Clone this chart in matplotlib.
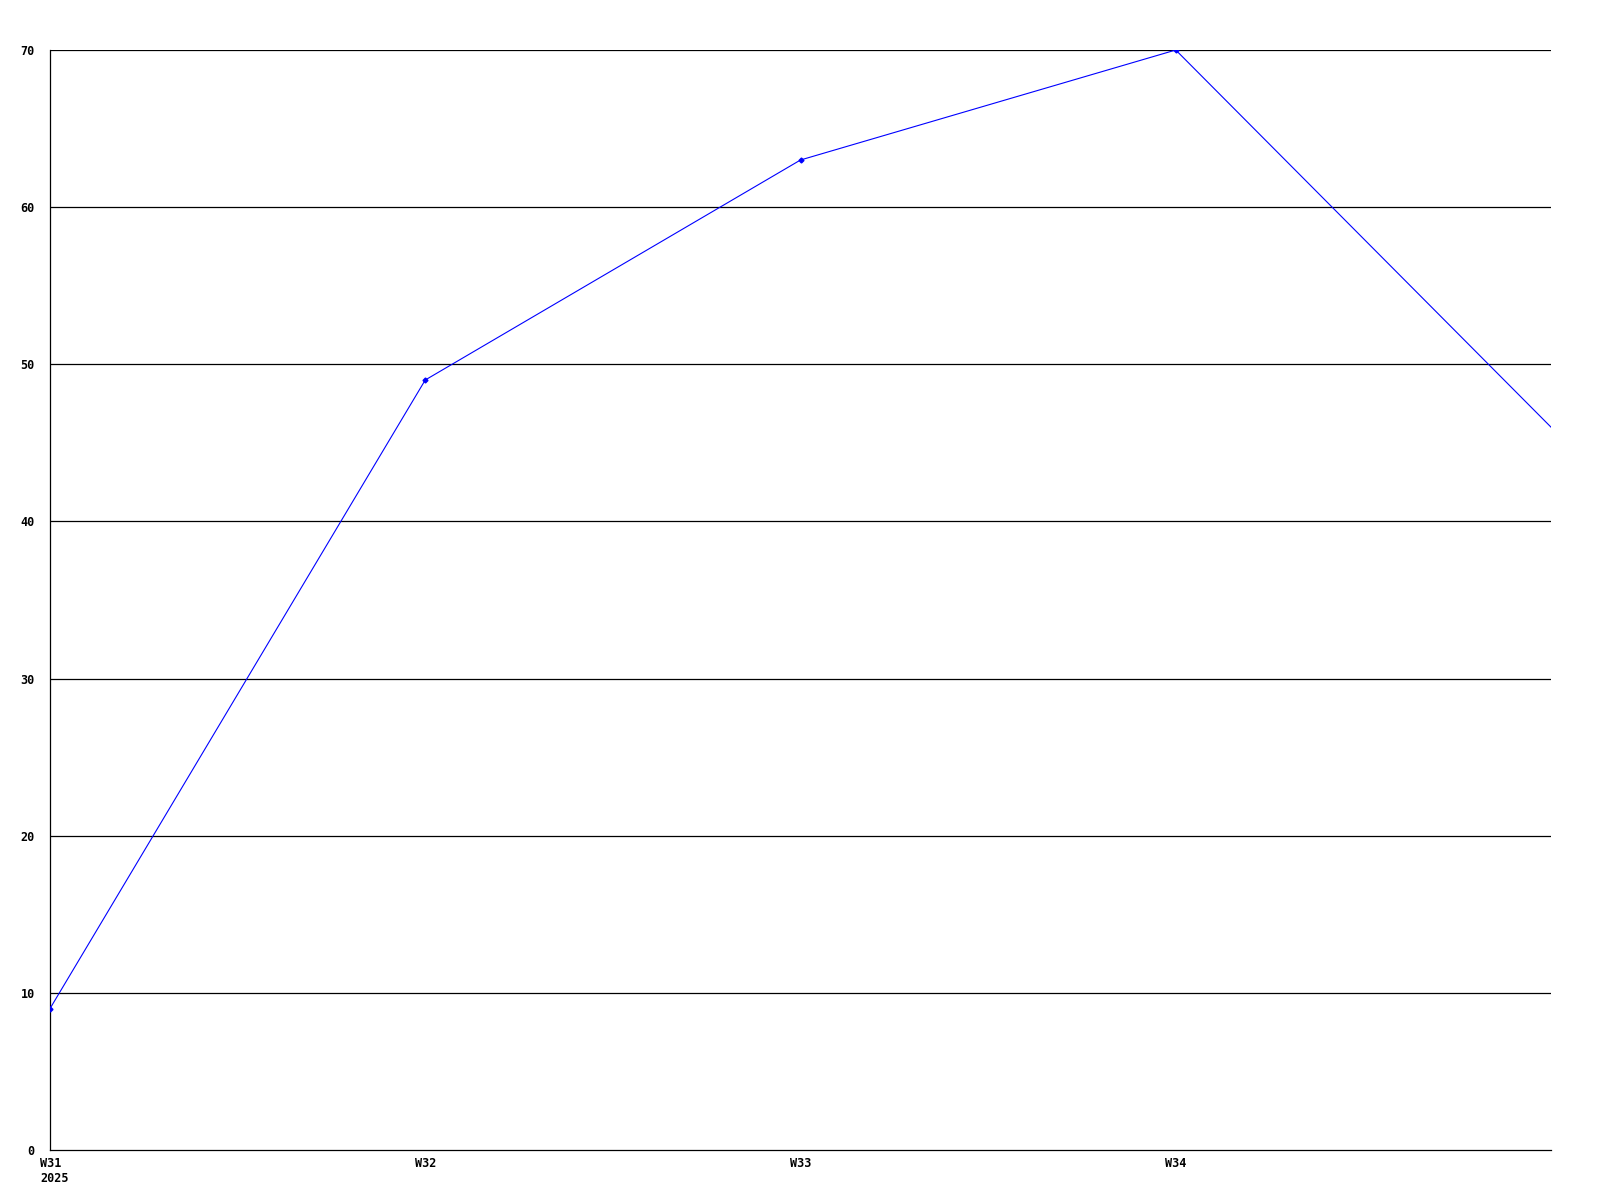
import matplotlib
matplotlib.use("Agg")
import matplotlib.pyplot as plt
import matplotlib.transforms as mtransforms

# weekly counts
weeks = ["W31\n2025", "W32", "W33", "W34", "W35"]
values = [9, 49, 63, 70, 46]
y_ticks = [0, 10, 20, 30, 40, 50, 60, 70]

x = list(range(len(weeks)))

fig = plt.figure(figsize=(16, 12), dpi=100)
ax = fig.add_axes([50 / 1600, 50 / 1200, 1501 / 1600, 1100 / 1200])

# horizontal grid lines (1 px)
for v in y_ticks[1:]:
    ax.axhline(v, color="black", linewidth=0.9, zorder=1)

ax.plot(x, values, color="#0000ff", linewidth=0.8, zorder=3)
ax.plot(x[:-1], values[:-1], linestyle="none", marker="D", markersize=2.5,
        color="#0000ff", zorder=4)

ax.set_xlim(0, 4)
ax.set_ylim(0, 70)

ax.set_yticks(y_ticks)
ax.set_yticklabels([str(v) for v in y_ticks])
ax.set_xticks(x[:-1])
ax.set_xticklabels(weeks[:-1])

for s in ["top", "right"]:
    ax.spines[s].set_visible(False)
for s in ["left", "bottom"]:
    ax.spines[s].set_color("black")
    ax.spines[s].set_linewidth(0.9)

ax.tick_params(axis="both", length=0, labelsize=8.5)
ax.tick_params(axis="y", pad=11)
ax.tick_params(axis="x", pad=5)
for lbl in ax.get_xticklabels() + ax.get_yticklabels():
    lbl.set_fontfamily("DejaVu Sans Mono")
    lbl.set_fontweight("bold")

# first label: year under the week, both left-aligned with the week text
first = ax.get_xticklabels()[0]
first.set_horizontalalignment("left")
first.set_multialignment("left")
first.set_transform(first.get_transform() +
                    mtransforms.ScaledTranslation(-10 / 100, 0, fig.dpi_scale_trans))

fig.savefig("out.png", dpi=100, facecolor="white")
